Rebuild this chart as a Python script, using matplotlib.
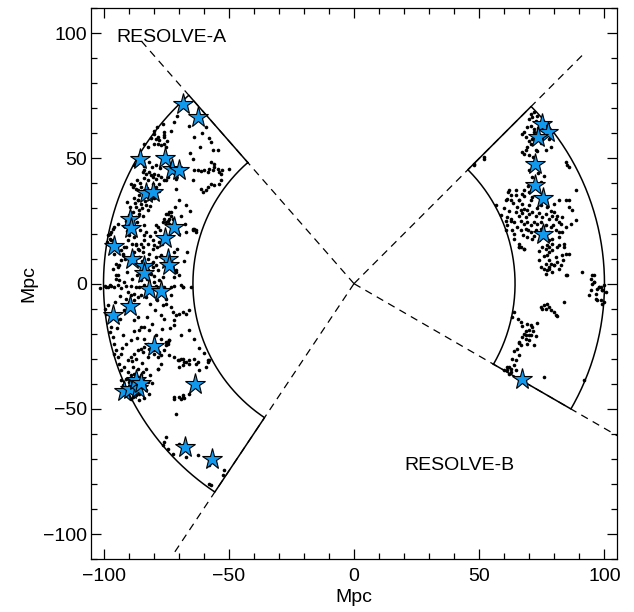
import numpy as np
import matplotlib
matplotlib.use("Agg")
import matplotlib.pyplot as plt
from matplotlib.ticker import MultipleLocator

plt.rcParams['font.family'] = ['Liberation Sans', 'DejaVu Sans']

# survey geometry (RA range in deg, distance range in Mpc)
ra_a = (131.25, 236.25)
ra_b = (-30.0, 45.0)
r_in, r_out = 64.3, 100.0
r_ray = 130.0

# galaxies, RESOLVE-A (Mpc)
dots_a_x = [-76.4, -79.7, -79.0, -77.7, -78.4, -77.0, -75.7, -75.7, -75.0, -83.7, -82.4, -57.1, -56.4, -54.4,
            -59.1, -64.4, -63.7, -62.4, -61.1, -59.7, -57.7, -56.4, -55.7, -54.4, -53.8, -52.5, -53.1, -57.1,
            -55.7, -49.8, -58.4, -61.1, -60.4, -59.1, -58.4, -57.1, -55.7, -53.8, -53.1, -64.4, -71.0, -75.0,
            -74.4, -89.0, -88.4, -87.7, -87.0, -86.4, -85.0, -84.4, -83.7, -83.0, -81.7, -81.0, -80.4, -79.7,
            -79.0, -78.4, -77.0, -87.7, -87.0, -82.4, -80.4, -77.7, -75.7, -71.0, -75.7, -78.4, -79.7, -86.4,
            -87.0, -85.7, -74.4, -73.0, -73.7, -75.0, -73.0, -63.1, -64.4, -67.1, -97.6, -97.0, -96.3, -95.7,
            -95.0, -94.3, -93.0, -92.3, -91.0, -90.3, -89.7, -88.4, -87.7, -87.0, -85.7, -84.4, -83.7, -82.4,
            -81.7, -80.4, -79.0, -81.0, -84.4, -82.4, -80.4, -72.4, -71.0, -68.4, -73.0, -71.7, -101.5, -99.0,
            -97.6, -75.0, -73.7, -73.0, -75.7, -74.4, -76.4, -72.4, -73.7, -79.0, -78.4, -83.0, -83.7, -80.4,
            -79.7, -77.7, -63.7, -64.4, -63.1, -69.7, -86.4, -87.0, -85.0, -84.4, -91.7, -93.0, -92.3, -98.3,
            -97.6, -98.6, -97.0, -95.7, -94.3, -96.3, -94.3, -95.0, -93.7, -99.6, -98.3, -97.0, -95.7, -94.3,
            -93.0, -91.0, -89.0, -87.0, -85.7, -83.7, -81.0, -79.0, -75.7, -71.7, -68.4, -65.1, -90.3, -89.0,
            -87.7, -91.0, -89.7, -87.7, -86.4, -85.0, -79.0, -80.4, -82.4, -78.4, -81.0, -76.4, -79.7, -71.0,
            -69.7, -73.0, -75.0, -93.7, -95.0, -96.3, -99.6, -98.3, -99.0, -97.6, -97.0, -97.6, -96.3, -95.7,
            -95.0, -95.9, -94.3, -93.7, -93.0, -91.7, -90.3, -89.0, -87.7, -86.4, -85.0, -83.7, -82.4, -81.7,
            -80.4, -79.7, -78.4, -77.0, -75.7, -74.4, -75.0, -73.7, -76.4, -75.0, -73.0, -72.4, -71.0, -69.7,
            -68.4, -67.1, -65.7, -71.7, -71.7, -69.0, -77.0, -75.7, -86.4, -85.0, -87.7, -92.3, -91.0, -73.7,
            -71.7, -70.4, -69.0, -67.7, -65.7, -68.4, -69.7, -63.7, -63.1, -58.4, -57.8, -78.4, -77.0, -90.3,
            -89.0, -87.7, -86.4, -85.0, -84.4, -83.7, -83.0, -85.7, -88.4, -90.3, -91.0, -92.3, -89.7, -87.0,
            -84.4, -82.4, -86.4, -88.4, -91.0, -71.7, -68.4, -71.7, -69.0, -68.0, -71.0, -75.0, -75.7, -76.4,
            -74.4, -72.4, -69.7, -67.1, -62.4, -57.8, -51.8, -52.1, -57.1, -57.8, -69.7, -68.4, -65.7, -69.7,
            -68.4, -67.1, -65.7, -62.4, -58.4, -59.1, -61.7, -85.7, -83.7, -81.7, -79.0, -77.0, -74.4, -73.7,
            -75.0, -77.7, -78.4, -82.4, -84.4, -86.4, -85.0, -84.4, -83.0, -82.4, -85.7, -87.0, -88.4, -81.0,
            -84.4, -69.0,
            -88.0, -87.3, -86.0, -84.8, -83.5, -82.0, -81.5, -80.0, -79.0, -78.0, -86.8, -85.5, -84.0, -82.8,
            -83.8, -82.0, -80.5, -79.0, -77.5, -89.5, -90.0, -91.0, -92.0, -90.5,
            -81.0, -80.0, -78.5, -76.0, -74.5, -73.0, -72.0, -70.5, -66.0, -64.0, -60.5, -58.0, -61.5, -65.5,
            -91.5, -90.0, -88.0, -86.0, -84.5, -86.5, -88.5, -90.5, -92.0, -85.0, -82.5, -80.0, -78.0, -77.0,
            -78.5, -76.5, -81.5, -79.5, -77.5, -85.5, -84.0, -86.5, -88.5, -90.5, -68.0, -66.5, -70.5, -72.0,
            -67.5, -69.0, -71.5, -67.0, -65.5, -70.0,
            -93.5, -95.5, -92.0, -93.5, -94.5, -92.5, -93.0, -89.0, -88.0, -86.5, -84.0, -82.5, -80.5, -79.5,
            -81.5, -83.0, -78.5, -76.5, -73.5, -66.0, -64.0, -62.0, -60.0, -88.5, -87.0, -84.5, -83.0, -81.5,
            -80.5, -82.0, -84.0, -86.0, -89.0, -92.5, -93.0, -90.0, -87.5, -85.0]
dots_a_y = [63.8, 59.8, 57.8, 57.2, 55.8, 55.2, 58.5, 55.8, 54.5, 55.8, 54.5, 56.5, 53.2, 53.5,
            62.5, 49.9, 45.5, 45.5, 44.8, 45.2, 45.9, 45.2, 46.5, 45.9, 44.5, 45.2, 43.9, 48.5,
            47.6, 45.9, 44.5, 37.9, 36.5, 37.2, 38.5, 39.9, 39.2, 39.9, 41.2, 41.2, 37.9, 41.2,
            42.5, 39.9, 38.5, 39.2, 37.9, 37.2, 38.5, 44.5, 45.2, 43.9, 44.5, 43.2, 42.5, 43.9,
            41.9, 43.2, 42.5, 47.2, 47.9, 41.2, 39.9, 39.9, 41.2, 41.9, 59.2, 58.5, 55.8, 33.2,
            30.6, 29.2, 27.9, 28.6, 25.9, 24.6, 23.3, 21.3, 21.9, 20.6, 19.9, 17.3, 14.6, 12.0,
            8.0, 6.6, 9.3, 12.0, 14.6, 17.3, 19.3, 21.3, 18.6, 16.0, 13.3, 14.6, 17.3, 16.0,
            12.0, 14.0, 10.6, 8.0, 6.6, 5.3, 6.6, 6.0, 5.3, -1.4, -1.4, 2.6, -1.6, -1.4,
            -0.7, 27.9, 28.6, 27.2, 25.9, 25.2, 24.6, 25.9, 23.9, 23.5, 22.6, 20.6, 19.3, 17.3,
            15.3, 16.6, 21.9, 21.3, 20.6, 19.9, 14.0, 15.3, 16.0, 12.6, 14.6, 13.3, 11.3, 19.3,
            17.9, 16.6, 20.6, 22.6, 23.9, 21.9, 3.3, 2.0, 1.3, -0.8, -1.5, -1.0, -1.3, -0.6,
            -1.6, -1.1, -0.9, -1.4, -1.2, -0.7, -1.5, -1.0, -1.3, -0.9, -1.2, -1.4, -3.4, -4.7,
            -4.0, -6.0, -7.3, -6.7, -5.3, -4.7, 7.3, 8.6, 10.0, 5.3, 4.0, 2.6, 0.6, 4.6,
            3.3, -4.7, -6.0, 7.3, 3.3, 6.0, -10.0, -8.7, -12.0, -14.6, -17.3, -19.3, -21.3, -23.9,
            -26.6, -27.9, -29.3, -31.9, -34.6, -33.3, -30.6, -29.3, -27.9, -26.6, -25.9, -25.3, -23.9, -25.9,
            -26.6, -27.9, -29.3, -28.6, -26.6, -23.9, -23.3, -22.6, -8.7, -8.0, -9.3, -11.3, -12.6, -12.0,
            -11.3, -12.0, -10.6, -14.6, -16.6, -20.6, -12.6, -14.0, -13.3, -17.3, -14.6, -20.6, -23.9, -28.6,
            -29.3, -30.6, -29.9, -31.3, -31.9, -32.6, -33.3, -29.9, -31.9, -31.3, -30.6, -33.9, -31.9, -35.3,
            -36.6, -35.9, -37.2, -36.6, -38.6, -40.6, -42.5, -43.9, -45.2, -44.5, -41.9, -40.6, -39.2, -44.5,
            -35.3, -39.2, -33.9, -33.2, -37.9, -45.2, -45.2, -45.9, -46.2, -45.6, -51.9, -61.2, -63.2, -64.5,
            -65.8, -67.8, -63.8, -69.2, -68.5, -72.5, -74.5, -76.5, -80.5, -79.8, -45.2, -44.6, -43.9, -30.6,
            -29.9, -31.3, -30.6, -31.3, -30.6, -33.3, -34.6, -18.6, -17.3, -18.6, -20.6, -21.9, -23.3, -22.6,
            -24.6, -27.3, -33.9, -29.3, -27.3, 33.2, 31.9, 34.6, 31.3, 29.2, 27.9, 26.6, 28.6, 33.9,
            27.2, -0.7,
            34.0, 32.2, 35.5, 30.0, 33.0, 35.0, 31.0, 34.0, 38.5, 37.0, 41.5, 40.0, 42.0, 38.0,
            47.0, 48.5, 46.5, 47.5, 46.0, 30.5, 27.5, 25.0, 23.0, 32.5,
            58.0, 61.0, 62.5, 60.5, 57.0, 61.0, 64.5, 67.0, 63.0, 58.5, 60.0, 58.0, 54.5, 52.0,
            10.0, 8.0, 12.5, 10.5, 9.0, 3.5, 2.0, 4.5, 0.5, 1.5, 2.0, 3.0, 1.5, 11.5,
            14.5, 16.0, 19.0, 20.5, 21.5, 21.5, 23.5, 24.5, 16.0, 21.0, 9.0, 12.5, 14.0, 12.5,
            24.0, 27.0, 30.5, 31.5, 29.0, 33.5,
            -5.0, -7.5, -10.5, -14.0, -17.5, -25.5, -28.0, -22.5, -19.0, -21.5, -22.0, -13.5, -16.0, -10.5,
            -8.0, -5.5, -6.5, -18.0, -17.5, -18.5, -22.0, -25.5, -27.5, -31.0, -30.0, -31.5, -34.0, -36.5,
            -39.5, -44.0, -45.5, -46.5, -46.0, -44.0, -38.5, -38.0, -43.0, -41.5]

# galaxies, RESOLVE-B (Mpc)
dots_b_x = [70.6, 71.2, 69.9, 71.9, 72.6, 73.2, 70.6, 69.2, 71.9, 67.9, 67.2, 68.6, 71.2, 70.6, 69.2, 67.2,
            67.9, 69.9, 72.6, 76.5, 78.5, 77.9, 79.2, 47.9, 51.9, 84.5, 85.2, 85.8, 88.5, 85.8, 84.5, 81.9,
            79.9, 76.5, 61.9, 61.2, 60.6, 62.6, 64.6, 67.9, 65.9, 67.2, 65.2, 66.6, 67.9, 69.2, 69.9, 70.6,
            71.2, 64.6, 65.9, 67.2, 68.6, 69.9, 71.2, 72.6, 73.9, 75.2, 76.5, 77.9, 79.2, 80.5, 66.6, 67.9,
            69.2, 70.6, 71.9, 73.2, 74.6, 76.5, 78.5, 65.2, 66.6, 68.6, 70.6, 72.6, 74.6, 77.9, 63.9, 62.6,
            61.2, 60.6, 69.2, 71.2, 73.9, 76.5, 79.2, 81.9, 83.2, 84.5, 86.5, 88.5, 87.2, 85.8, 81.2, 83.2,
            82.5, 81.9, 80.5, 77.9, 79.2, 81.9, 83.8, 77.2, 75.2, 65.9, 66.6, 56.6, 65.9, 67.9, 76.5, 77.9,
            81.2, 83.8, 84.5, 83.2, 79.2, 77.2, 77.9, 78.5, 79.9, 81.2, 82.5, 81.9, 74.6, 75.9, 77.2, 79.2,
            76.5, 85.2, 77.9, 91.1, 94.5, 95.8, 95.1, 97.1, 98.5, 99.8, 99.1, 100.5, 93.8, 95.1, 96.5, 97.1,
            95.8, 97.8, 98.9, 99.8, 83.8, 74.6, 75.9, 76.5, 77.9, 77.2, 78.5, 79.9, 80.5, 81.2, 75.2, 63.9,
            63.2, 66.6, 69.2, 71.2, 70.6, 69.9, 67.9, 67.2, 68.6, 69.9, 68.6, 70.6, 71.9, 65.9, 66.6, 65.2,
            65.9, 64.6, 63.9, 61.9, 61.2, 62.6, 75.9, 91.8, 61.2, 62.6, 64.6, 51.9, 47.9, 61.6, 62.6, 64.6,
            67.2, 61.2, 62.6, 63.2, 63.9, 65.9, 67.9, 73.9, 76.5, 77.9, 79.9, 84.5, 95.8, 97.8, 96.5, 99.1,
            98.5, 94.5,
            60.0, 62.0, 63.5, 66.0, 68.0, 70.0, 73.0, 74.5, 77.0, 78.5, 80.0, 64.0, 67.5, 69.5, 72.0, 75.5,
            79.5, 82.0, 60.5, 58.5, 74.0, 76.0, 78.0, 80.5, 83.5, 86.0,
            73.5, 72.0, 74.5, 70.0, 68.5, 71.5, 73.0, 70.0, 71.0, 73.5, 69.5, 74.5, 76.0,
            65.5, 67.0, 68.5, 70.0, 71.5, 72.5, 66.0, 64.0, 63.0, 62.0, 60.0, 69.0, 73.0]
dots_b_y = [67.8, 66.5, 65.8, 68.4, 65.1, 67.1, 63.1, 62.5, 61.8, 60.5, 59.8, 58.5, 57.8, 55.8, 54.5, 52.5,
            51.9, 51.2, 53.2, 53.2, 54.5, 57.8, 60.5, 47.9, 49.9, 48.5, 47.2, 46.5, 37.2, 33.2, 33.2, 33.2,
            31.9, 32.5, 37.2, 33.9, 33.2, 33.2, 35.2, 37.2, 33.2, 31.9, 30.6, 29.2, 29.9, 29.2, 31.2, 33.2,
            34.5, 28.6, 27.2, 28.0, 26.6, 27.9, 28.6, 27.2, 28.0, 26.6, 27.9, 26.0, 27.2, 25.9, 25.2, 24.0,
            24.6, 23.3, 24.6, 23.9, 24.6, 23.3, 22.6, 22.6, 21.3, 22.0, 20.6, 21.3, 21.9, 20.6, 24.6, 26.0,
            23.3, 21.3, 18.6, 17.9, 17.3, 18.6, 17.9, 18.6, 20.6, 22.6, 24.0, 25.3, 29.2, 30.6, 27.2, 26.6,
            23.9, 20.6, 21.3, 17.3, 16.0, 15.3, 16.0, 15.3, 14.6, 16.0, 14.6, 31.2, 14.6, 14.0, 14.0, 14.6,
            14.6, 14.6, 12.0, 11.3, 13.3, 11.3, 9.3, 8.0, 7.3, 8.6, 7.3, 6.0, 6.6, 6.0, 5.3, 4.6,
            4.0, 3.3, 6.0, 4.6, 2.0, 3.3, 0.0, -2.0, -1.4, -0.7, -2.7, -3.4, -4.7, 3.3, -6.0, -6.7,
            0.6, -1.4, -8.0, -7.3, -7.3, -9.3, -8.7, -10.0, -9.3, -8.0, -10.6, -11.3, -12.6, -12.9, -10.0, -11.3,
            -13.3, -15.3, -16.0, -17.3, -16.6, -18.6, -19.9, -21.3, -21.9, -22.6, -20.6, -20.6, -24.6, -23.3, -24.6, -25.9,
            -28.6, -30.6, -32.6, -33.3, -34.6, -35.3, -37.3, -38.6, -33.3, -34.0, -34.6, 50.5, 47.2, 36.5, 35.2, 37.2,
            35.9, 26.6, 25.2, 21.3, 17.9, 14.6, 14.0, 9.3, 8.0, 6.6, 7.3, 3.3, 0.6, -1.4, -4.0, -2.7,
            -6.7, -2.7,
            30.0, 29.0, 32.0, 33.5, 35.0, 36.5, 30.0, 31.5, 30.5, 29.0, 28.5, 20.0, 19.5, 21.5, 19.0, 22.5,
            23.5, 24.5, 25.0, 27.5, 13.0, 11.0, 12.5, 10.5, 9.5, 12.0,
            62.0, 60.5, 56.0, 57.0, 53.5, 50.5, 53.0, 45.5, 42.5, 44.0, 39.0, 40.5, 43.0,
            -14.0, -17.0, -19.0, -20.5, -19.0, -21.0, -23.5, -27.0, -30.0, -36.0, -34.5, -24.0, -15.5]

# blue stars (Mpc)
star_x = [-68.4, -62.4, -85.3, -75.3, -72.8, -69.7, -83.0, -80.4, -89.3, -89.0, -72.0, -75.4, -95.9,
          -88.7, -74.4, -73.7, -83.7, -83.7, -81.7, -77.0, -89.3, -96.3, -80.0, -63.5, -91.9, -89.3,
          -86.4, -87.0, -85.0, -67.3, -56.7,
          74.9, 77.6, 73.6, 72.3, 72.3, 75.5, 75.5, 67.0]
star_y = [71.8, 66.7, 49.6, 50.3, 45.6, 45.2, 36.1, 36.5, 25.9, 22.3, 22.6, 18.2, 15.0,
          9.7, 10.0, 7.6, 7.0, 4.4, -2.3, -3.1, -9.1, -12.6, -25.0, -39.9, -42.8, -41.9,
          -41.5, -38.6, -39.6, -65.2, -69.8,
          63.8, 60.7, 58.5, 47.9, 39.2, 34.1, 19.9, -37.9]

fig = plt.figure(figsize=(6.34, 6.12), dpi=100)
ax = fig.add_axes([0.1435, 0.0861, 0.8297, 0.9008])

# dashed rays through the origin
for ang in [ra_a[0], ra_a[1], ra_b[0], ra_b[1]]:
    t = np.radians(ang)
    ax.plot([0, r_ray*np.cos(t)], [0, r_ray*np.sin(t)], color='k', lw=0.9, ls=(0, (6, 4.5)))

# wedge outlines
for lo, hi in [ra_a, ra_b]:
    t = np.radians(np.linspace(lo, hi, 200))
    xs = np.concatenate([r_in*np.cos(t), r_out*np.cos(t[::-1]), [r_in*np.cos(t[0])]])
    ys = np.concatenate([r_in*np.sin(t), r_out*np.sin(t[::-1]), [r_in*np.sin(t[0])]])
    ax.plot(xs, ys, color='k', lw=1.1)

ax.plot(dots_a_x, dots_a_y, 'o', color='k', ms=2.6, mew=0)
ax.plot(dots_b_x, dots_b_y, 'o', color='k', ms=2.6, mew=0)
ax.plot(star_x, star_y, '*', color='#1199EE', ms=15.5, mec='k', mew=0.8)

ax.text(-94.8, 98.2, 'RESOLVE-A', fontsize=14, va='center', ha='left')
ax.text(20, -72.5, 'RESOLVE-B', fontsize=14, va='center', ha='left')

ax.set_xlim(-105, 105)
ax.set_ylim(-110, 110)
ax.xaxis.set_major_locator(MultipleLocator(50))
ax.xaxis.set_minor_locator(MultipleLocator(10))
ax.yaxis.set_major_locator(MultipleLocator(50))
ax.yaxis.set_minor_locator(MultipleLocator(10))
ax.tick_params(which='both', direction='in', top=True, right=True, labelsize=14)
ax.tick_params(which='major', length=7.5, width=0.9)
ax.tick_params(which='minor', length=4, width=0.9)
ax.tick_params(axis='x', pad=6)
ax.tick_params(axis='y', pad=3)
for s in ax.spines.values():
    s.set_linewidth(0.9)
ax.set_xlabel('Mpc', fontsize=14, labelpad=3)
ax.set_ylabel('Mpc', fontsize=14, labelpad=4)

fig.savefig('out.png', dpi=100)
